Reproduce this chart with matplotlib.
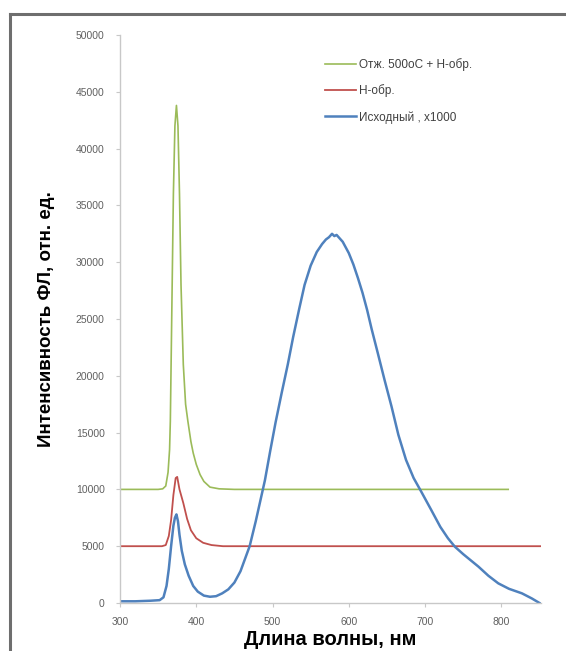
import matplotlib.pyplot as plt
from matplotlib.lines import Line2D

plt.rcParams['font.family'] = ['Liberation Sans', 'DejaVu Sans']

# спектры ФЛ: длина волны, нм -> интенсивность, отн. ед.
green_x = [300, 330, 350, 356, 360, 363, 365, 366, 368, 370, 372, 374, 376, 378, 380,
           383, 386, 389, 393, 396, 400, 405, 410, 418, 430, 450, 500, 600, 700, 809]
green_y = [10000, 10000, 10000, 10050, 10300, 11500, 13500, 16000, 26000, 36000, 42000, 43800,
           42000, 36000, 28000, 21000, 17500, 16000, 14200, 13200, 12200, 11300, 10700, 10200,
           10050, 10000, 10000, 10000, 10000, 10000]

red_x = [300, 330, 355, 360, 364, 367, 370, 373, 375, 378, 383, 388, 393, 400, 409, 420,
         435, 500, 600, 700, 800, 852]
red_y = [5000, 5000, 5000, 5100, 5900, 7300, 9500, 11000, 11100, 10000, 8800, 7400, 6400,
         5700, 5300, 5100, 5000, 5000, 5000, 5000, 5000, 5000]

blue_x = [300, 320, 340, 352, 357, 361, 364, 367, 370, 372, 374, 376, 378, 381, 385, 390,
          396, 402, 410, 418, 426, 434, 442, 450, 458, 464, 470, 478, 485, 490, 497, 504,
          512, 520, 527, 535, 542, 550, 558, 565, 570, 574, 578, 581, 584, 588, 592, 596,
          600, 606, 612, 618, 624, 630, 638, 647, 656, 665, 675, 685, 695, 708, 720, 730,
          739, 750, 760, 770, 783, 796, 810, 827, 840, 850]
blue_y = [150, 150, 200, 250, 500, 1500, 3000, 5000, 6800, 7500, 7800, 7200, 6000, 4600,
          3400, 2400, 1500, 1000, 650, 550, 600, 850, 1200, 1800, 2800, 3900, 5000, 7200,
          9300, 10800, 13400, 15900, 18500, 21000, 23400, 25900, 28000, 29700, 30900, 31600,
          32000, 32200, 32500, 32300, 32400, 32100, 31800, 31300, 30800, 29800, 28600, 27300,
          25800, 24100, 22000, 19600, 17300, 14800, 12600, 11000, 9800, 8200, 6700, 5700,
          4960, 4300, 3750, 3200, 2400, 1730, 1250, 850, 400, 0]

labels = ['Отж. 500оС + Н-обр.', 'Н-обр.', 'Исходный , х1000']
x_ticks = [300, 400, 500, 600, 700, 800]
y_ticks = [0, 5000, 10000, 15000, 20000, 25000, 30000, 35000, 40000, 45000, 50000]

W, H = 566, 651
fig = plt.figure(figsize=(W / 100, H / 100), dpi=100)
ax = fig.add_axes([120 / W, 1 - 603 / H, 421 / W, 568 / H])

ax.plot(green_x, green_y, color='#9BBB59', lw=1.2, label=labels[0])
ax.plot(red_x, red_y, color='#C0504D', lw=1.3, label=labels[1])
ax.plot(blue_x, blue_y, color='#4F81BD', lw=1.8, label=labels[2])

ax.set_xlim(300, 852)
ax.set_ylim(0, 50000)
ax.set_xticks(x_ticks)
ax.set_yticks(y_ticks)
ax.tick_params(labelsize=7.5, labelcolor='#606060', color='#c8c8c8', length=3, width=0.8)
ax.tick_params(axis='y', pad=8)
ax.tick_params(axis='x', pad=7)

for side in ['top', 'right']:
    ax.spines[side].set_visible(False)
for side in ['left', 'bottom']:
    ax.spines[side].set_color('#c8c8c8')
    ax.spines[side].set_linewidth(1.0)

ax.set_xlabel('Длина волны, нм', fontsize=14.5, fontweight='bold', labelpad=2)
ax.set_ylabel('Интенсивность ФЛ, отн. ед.', fontsize=13.5, fontweight='bold', labelpad=15)

ax.legend(loc='upper left', bbox_to_anchor=(325 / W, 1 - 58 / H),
          bbox_transform=fig.transFigure, frameon=False, fontsize=8.5,
          handlelength=2.6, handletextpad=0.3, labelspacing=1.15,
          borderpad=0, borderaxespad=0, labelcolor='#404040')

# рамка слева и сверху
fig.add_artist(Line2D([10 / W, 10 / W], [0, 1 - 14 / H], color='#6e6e6e', lw=2.2))
fig.add_artist(Line2D([10 / W, 1], [1 - 14 / H, 1 - 14 / H], color='#6e6e6e', lw=2.2))

fig.savefig('out.png', dpi=100)
